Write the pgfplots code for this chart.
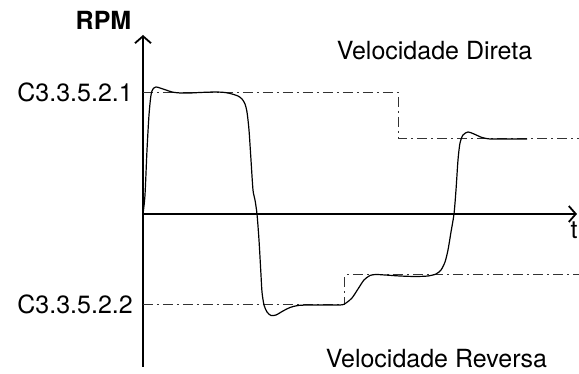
\documentclass[border=0pt]{standalone}
\usepackage{fontspec}
\setmainfont{TeX Gyre Heros}
\usepackage{pgfplots}
\pgfplotsset{compat=1.18}
\usetikzlibrary{arrows.meta}

\newcommand{\lblfont}{\fontsize{25}{30}\selectfont}

\begin{document}
\begin{tikzpicture}
\begin{axis}[
  x=1pt, y=1pt,
  xmin=0, xmax=434, ymin=-153, ymax=179,
  axis lines=middle,
  axis line style={line width=2pt, -{Straight Barb[length=7pt,width=16pt,line width=1.8pt]}},
  xtick=\empty, ytick=\empty,
  clip=false,
]
% referencia (velocidade comandada)
\addplot[line width=1pt, color=black!80, dash pattern=on 10pt off 4pt on 2pt off 4pt]
  coordinates {(0,121) (256,121) (256,75) (436,75)};
\addplot[line width=1pt, color=black!80, dash pattern=on 10pt off 4pt on 2pt off 4pt]
  coordinates {(0,-91) (202,-91) (202,-61) (436,-61)};
% resposta do motor
\addplot[line width=1.2pt, black, smooth, tension=0.45] coordinates {
  (0,0) (2,19) (4,64) (6,99) (8,119) (10,125) (13,127) (17,126) (23,124)
  (29,122) (37,121) (47,121) (57,121.5) (72,122) (82,121.5) (89,120)
  (95,118) (99,115) (102,110) (104,102) (106,84) (108,54) (110,24)
  (112,14) (114,0) (116,-26) (118,-61) (119,-78) (121,-91) (124,-98)
  (128,-101.5) (133,-101) (140,-97) (147,-93.5) (155,-91.5) (167,-91)
  (197,-91) (203,-89) (209,-84) (215,-75) (221,-66) (227,-61.5)
  (233,-60.5) (242,-61) (257,-62) (272,-62.5) (285,-62) (293,-60)
  (298,-56) (302,-48) (305,-36) (308,-18) (311,0) (313,24) (315,54)
  (317,71) (320,79) (325,82) (331,80) (339,76.5) (347,75) (362,75) (384,75)
};
\node[anchor=base, font=\lblfont\bfseries] at (axis cs:-39.5,184) {RPM};
\node[anchor=base, font=\lblfont] at (axis cs:291.5,154) {Velocidade Direta};
\node[anchor=base, font=\lblfont] at (axis cs:293.5,-154) {Velocidade Reversa};
\node[anchor=base east, inner sep=0pt, font=\lblfont] at (axis cs:-10,112.5) {C3.3.5.2.1};
\node[anchor=base east, inner sep=0pt, font=\lblfont] at (axis cs:-10,-99.5) {C3.3.5.2.2};
\node[anchor=north, inner sep=1pt, font=\lblfont] at (axis cs:431,-7) {t};
\coordinate (bl) at (axis cs:-143,-160);
\coordinate (tr) at (axis cs:436,214);
\end{axis}
\pgfresetboundingbox
\useasboundingbox (bl) rectangle (tr);
\end{tikzpicture}
\end{document}
